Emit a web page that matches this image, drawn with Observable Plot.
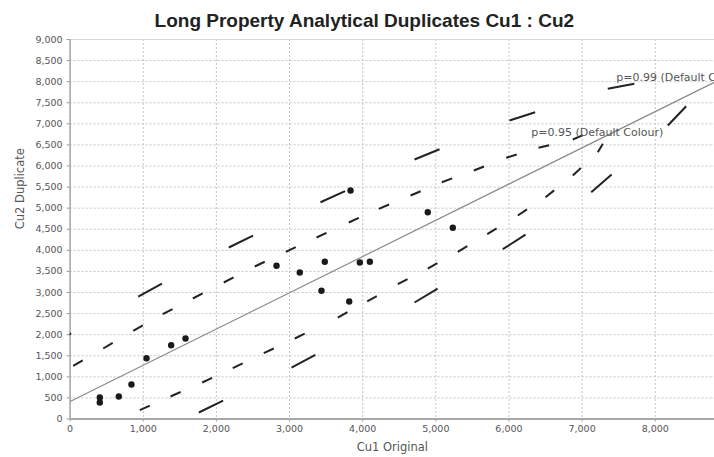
<!DOCTYPE html>
<html>
<head>
<meta charset="utf-8">
<script src="https://cdn.jsdelivr.net/npm/d3@7"></script>
<script src="https://cdn.jsdelivr.net/npm/@observablehq/plot@0.6"></script>
<style>
  html, body { margin: 0; padding: 0; background: #fff; overflow: hidden; }
</style>
</head>
<body>
<div id="chart"></div>
<script>
// Texts
const title = "Long Property Analytical Duplicates Cu1 : Cu2";
const xLabel = "Cu1 Original";
const yLabel = "Cu2 Duplicate";

// Tick values
const xTicks = [0, 1000, 2000, 3000, 4000, 5000, 6000, 7000, 8000];
const yTicks = [0, 500, 1000, 1500, 2000, 2500, 3000, 3500, 4000, 4500,
                5000, 5500, 6000, 6500, 7000, 7500, 8000, 8500, 9000];

// Duplicate pairs: original assay (Cu1) vs duplicate assay (Cu2)
const cu1 = [406, 406, 666, 839, 1045, 1382, 1578, 2822, 3140, 3437, 3482, 3816, 3834, 3961, 4098, 4890, 5232];
const cu2 = [510, 391, 534, 818, 1442, 1750, 1909, 3633, 3474, 3040, 3728, 2787, 5419, 3711, 3728, 4904, 4534];

// Fitted line end points
const fitX = [0, 8810];
const fitY = [415, 7987];

// Band vertices (the series are drawn segment by segment, so each dash starts at a vertex)
const upper99X = [-309, 931, 2170, 3423, 4709, 6007, 7351, 7716];
const upper99Y = [1719, 2905, 4067, 5141, 6154, 7079, 7831, 7949];

const upper95X = [42, 453, 863, 1267, 1678, 2101, 2525, 2949, 3369, 3810, 4221, 4654, 5082, 5519, 5962, 6404, 6873, 7023];
const upper95Y = [1262, 1672, 2092, 2485, 2858, 3237, 3617, 3965, 4304, 4660, 4985, 5300, 5616, 5893, 6194, 6432, 6628, 6740];

const lower95X = [953, 1373, 1806, 2224, 2648, 3072, 3660, 4062, 4480, 4890, 5301, 5703, 6121, 6500, 6873, 7215, 7283];
const lower95Y = [209, 534, 866, 1205, 1560, 1909, 2407, 2787, 3197, 3569, 3965, 4383, 4826, 5260, 5775, 6327, 6526];

const lower99X = [1760, 3027, 4709, 5916, 7125, 8172, 8423];
const lower99Y = [154, 1221, 2763, 4027, 5379, 6960, 7418];

// Band captions
const bandLabels = ["p=0.99 (Default Colour)", "p=0.95 (Default Colour)"];
const bandLabelX = [7466, 6304];
const bandLabelY = [8111, 6794];

// Helpers to shape the arrays for Plot
const points = d3.zip(cu1, cu2);
const fit = d3.zip(fitX, fitY);
const segments = (xs, ys) => d3.pairs(d3.zip(xs, ys));
const labels = d3.zip(bandLabels, bandLabelX, bandLabelY);

const seg = {x1: d => d[0][0], y1: d => d[0][1], x2: d => d[1][0], y2: d => d[1][1]};
const sans = "DejaVu Sans, sans-serif";

const chart = Plot.plot({
  width: 714,
  height: 457,
  marginLeft: 69.6,
  marginRight: 0,
  marginTop: 39,
  marginBottom: 38.5,
  style: {fontFamily: sans, background: "#fff", overflow: "hidden"},
  x: {domain: [0, 8810]},
  y: {domain: [0, 9000]},
  marks: [
    Plot.gridY(yTicks, {stroke: "#c4c4c4", strokeOpacity: 1, strokeDasharray: "2,2"}),
    Plot.gridX(xTicks, {stroke: "#c4c4c4", strokeOpacity: 1, strokeDasharray: "2,2"}),
    Plot.ruleY([yTicks[yTicks.length - 1]], {stroke: "#d6d6d6"}),
    Plot.axisY(yTicks, {
      tickFormat: d3.format(","), tickSize: 3, tickPadding: 4.5,
      fontSize: 9.5, fontFamily: sans, fill: "#555", stroke: "#999", label: null
    }),
    Plot.axisX(xTicks, {
      tickFormat: d3.format(","), tickSize: 3, tickPadding: 3.5,
      fontSize: 9.5, fontFamily: sans, fill: "#555", stroke: "#999", label: null
    }),
    Plot.ruleX([xTicks[0]], {stroke: "#a8a8a8", strokeWidth: 1.5}),
    Plot.ruleY([yTicks[0]], {stroke: "#a8a8a8", strokeWidth: 2}),

    // Confidence bands
    Plot.link(segments(upper99X, upper99Y), {...seg, stroke: "#222", strokeWidth: 2, strokeDasharray: "27,2000", clip: true}),
    Plot.link(segments(lower99X, lower99Y), {...seg, stroke: "#222", strokeWidth: 2, strokeDasharray: "27,2000", clip: true}),
    Plot.link(segments(upper95X, upper95Y), {...seg, stroke: "#222", strokeWidth: 2, strokeDasharray: "11,2000", clip: true}),
    Plot.link(segments(lower95X, lower95Y), {...seg, stroke: "#222", strokeWidth: 2, strokeDasharray: "11,2000", clip: true}),

    // Fitted line
    Plot.line(fit, {x: d => d[0], y: d => d[1], stroke: "#8a8a8a", strokeWidth: 1.2, clip: true}),

    // Samples
    Plot.dot(points, {x: d => d[0], y: d => d[1], r: 3.2, fill: "#1a1a1a", stroke: null}),

    // Band captions
    Plot.text(labels, {
      x: d => d[1], y: d => d[2], text: d => d[0],
      textAnchor: "start", lineAnchor: "middle", fontSize: 11, fill: "#555", fontFamily: sans
    }),

    // Axis titles
    Plot.text([xLabel], {text: d => d, frameAnchor: "bottom", dy: 28.5, lineAnchor: "middle", fontSize: 11.5, fill: "#555", fontFamily: sans}),
    Plot.text([yLabel], {text: d => d, frameAnchor: "left", dx: -49.6, rotate: -90, lineAnchor: "middle", fontSize: 11.5, fill: "#555", fontFamily: sans}),

    // Chart title
    Plot.text([title], {
      text: d => d, frameAnchor: "top", dx: -28, dy: -18.6, lineAnchor: "middle",
      fontSize: 19, fontWeight: "bold", fill: "#222", fontFamily: "Liberation Sans, Arial, sans-serif"
    })
  ]
});

document.getElementById("chart").appendChild(chart);
</script>
</body>
</html>
